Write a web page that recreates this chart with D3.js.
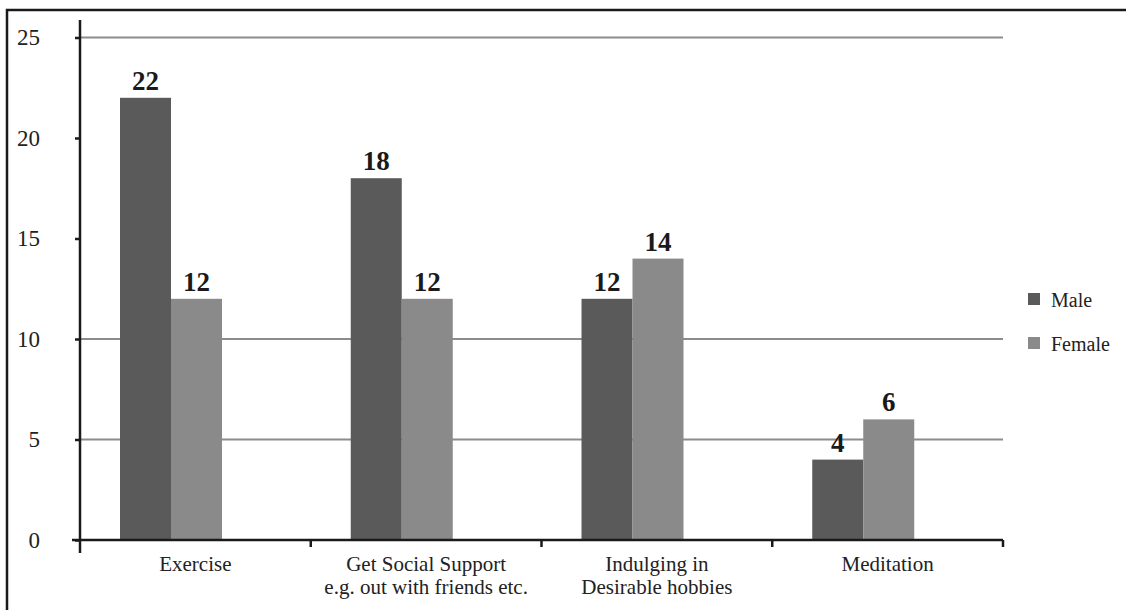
<!DOCTYPE html>
<html><head><meta charset="utf-8">
<script src="https://cdn.jsdelivr.net/npm/d3@7"></script>
<style>
html,body{margin:0;padding:0;background:#fff;}
svg{display:block;}
</style></head>
<body><svg id="c" width="1126" height="610"></svg>
<script>
const categories = ["Exercise", "Get Social Support|e.g. out with friends etc.", "Indulging in|Desirable hobbies", "Meditation"];
const seriesNames = ["Male", "Female"];
const maleValues = [22, 18, 12, 4];
const femaleValues = [12, 12, 14, 6];
const yTicks = [0, 5, 10, 15, 20, 25];
const gridValues = [5, 10, 25];
const colors = ["#5a5a5a", "#8a8a8a"];

const FONT = "'Liberation Serif', 'Times New Roman', Times, serif";
const svg = d3.select("#c").attr("font-family", FONT);
const W = 1126, H = 610;

// frame (left and top edges)
svg.append("path").attr("d", `M7,${H} L7,10 L${W},10`).attr("fill","none").attr("stroke","#1a1a1a").attr("stroke-width",2.5);

const x = d3.scaleBand().domain(categories).range([80, 1003]).padding(0);
const xs = d3.scaleBand().domain(seriesNames).range([40, 142]).padding(0);
const y = d3.scaleLinear().domain([0, 25]).range([540, 37.5]);

// gridlines
svg.append("g").selectAll("line").data(gridValues).join("line")
  .attr("x1", 80).attr("x2", 1003)
  .attr("y1", d => y(d)).attr("y2", d => y(d))
  .attr("stroke", "#8c8c8c").attr("stroke-width", 2);

// bars
const data = categories.map((c, i) => ({c, vals: [maleValues[i], femaleValues[i]]}));
const g = svg.append("g");
data.forEach(d => {
  d.vals.forEach((v, j) => {
    const bx = x(d.c) + xs(seriesNames[j]);
    g.append("rect").attr("x", bx).attr("y", y(v)).attr("width", xs.bandwidth()).attr("height", y(0) - y(v)).attr("fill", colors[j]);
    g.append("text").attr("x", bx + xs.bandwidth()/2).attr("y", y(v) - 8)
      .attr("font-family", FONT).attr("fill","#1a1a1a")
      .attr("text-anchor","middle").attr("font-weight","bold").attr("font-size", 27).text(v);
  });
});

// y axis
const yAxis = d3.axisLeft(y).tickValues(yTicks).tickSize(5).tickPadding(35).tickFormat(d3.format("d"));
const ya = svg.append("g").attr("transform","translate(80,0)").call(yAxis);
ya.attr("font-family", FONT);
ya.select(".domain").remove();
ya.selectAll(".tick line").attr("stroke","#1a1a1a").attr("stroke-width",2.5);
ya.selectAll(".tick text").attr("font-size",23).attr("font-family",FONT).attr("fill","#222");
svg.append("line").attr("x1",80).attr("x2",80).attr("y1",20).attr("y2",553).attr("stroke","#1a1a1a").attr("stroke-width",2.5);

// x axis
svg.append("line").attr("x1",72).attr("x2",1003).attr("y1",540).attr("y2",540).attr("stroke","#1a1a1a").attr("stroke-width",2.5);
svg.append("g").selectAll("line").data(categories).join("line")
  .attr("x1", d => x(d) + x.bandwidth()).attr("x2", d => x(d) + x.bandwidth())
  .attr("y1", 540).attr("y2", 547).attr("stroke","#1a1a1a").attr("stroke-width",2.5);
const xl = svg.append("g").selectAll("text").data(categories).join("text")
  .attr("font-family", FONT)
  .attr("text-anchor","middle").attr("font-size",21).attr("fill","#222");
xl.each(function(d){
  const t = d3.select(this);
  d.split("|").forEach((line, k) => {
    t.append("tspan").attr("x", x(d) + x.bandwidth()/2).attr("y", 571 + k*23).text(line);
  });
});

// legend
const lg = svg.append("g");
seriesNames.forEach((s, j) => {
  lg.append("rect").attr("x", 1028).attr("y", 293 + j*44).attr("width", 12).attr("height", 12).attr("fill", colors[j]);
  lg.append("text").attr("x", 1051).attr("y", 307 + j*44).attr("font-family", FONT).attr("font-size", 20).attr("fill","#222").text(s);
});
</script></body></html>
